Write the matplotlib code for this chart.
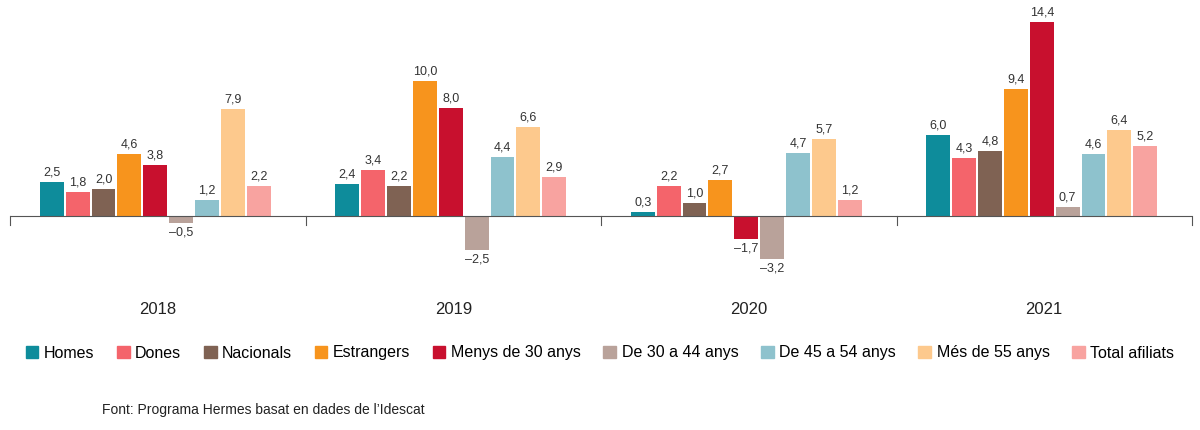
import numpy as np
import matplotlib.pyplot as plt
from matplotlib.patches import Rectangle

plt.rcParams['font.family'] = ['Liberation Sans', 'DejaVu Sans']

years = ['2018', '2019', '2020', '2021']
series = ['Homes', 'Dones', 'Nacionals', 'Estrangers', 'Menys de 30 anys',
          'De 30 a 44 anys', 'De 45 a 54 anys', 'Més de 55 anys', 'Total afiliats']
values = [
    [2.5, 2.4, 0.3, 6.0],
    [1.8, 3.4, 2.2, 4.3],
    [2.0, 2.2, 1.0, 4.8],
    [4.6, 10.0, 2.7, 9.4],
    [3.8, 8.0, -1.7, 14.4],
    [-0.5, -2.5, -3.2, 0.7],
    [1.2, 4.4, 4.7, 4.6],
    [7.9, 6.6, 5.7, 6.4],
    [2.2, 2.9, 1.2, 5.2],
]
colors = ['#0e8c9b', '#f4646b', '#7f6253', '#f7941d', '#c8102e',
          '#b9a29a', '#8ec2cd', '#fdc98d', '#f8a3a0']

fig = plt.figure(figsize=(12, 4.3), dpi=100)
# axes: x 10..1192 px, y 10..290 px from top
ax = fig.add_axes([10/1200, (430-290)/430, 1182/1200, 280/430])
ax.set_xlim(0, 4)
ax.set_ylim(-74/13.5, 206/13.5)
for s in ax.spines.values():
    s.set_visible(False)
ax.set_xticks([])
ax.set_yticks([])
ax.axhline(0, color='#555555', lw=0.8)
for b in [0, 1, 2, 3, 4]:
    ax.plot([b, b], [0, -0.7], color='#555555', lw=0.8, clip_on=False)

bw = 24/297
gap = 2/297
start = 30/297
for i, (name, vals, c) in enumerate(zip(series, values, colors)):
    x = np.arange(4) + start + i*(bw+gap) + bw/2
    ax.bar(x, vals, width=bw, color=c, label=name)
    for xi, v in zip(x, vals):
        txt = f'{abs(v):.1f}'.replace('.', ',')
        if v < 0:
            ax.text(xi, v - 0.25, '–' + txt, ha='center', va='top', fontsize=9, color='#333333')
        else:
            ax.text(xi, v + 0.25, txt, ha='center', va='bottom', fontsize=9, color='#333333')

for j, y in enumerate(years):
    ax.text(j + 0.5, -94/13.5, y, ha='center', va='center', fontsize=12, color='#222222')

handles = [Rectangle((0, 0), 1, 1, color=c) for c in colors]
fig.legend(handles, series, loc='center', bbox_to_anchor=(0.5, (430-353)/430),
           ncol=9, frameon=False, fontsize=11.5, handlelength=0.8, handleheight=0.8,
           handletextpad=0.35, columnspacing=1.4)
fig.text(102/1200, (430-410)/430, "Font: Programa Hermes basat en dades de l’Idescat",
         fontsize=10, color='#222222', va='center')
fig.savefig('out.png', dpi=100)
